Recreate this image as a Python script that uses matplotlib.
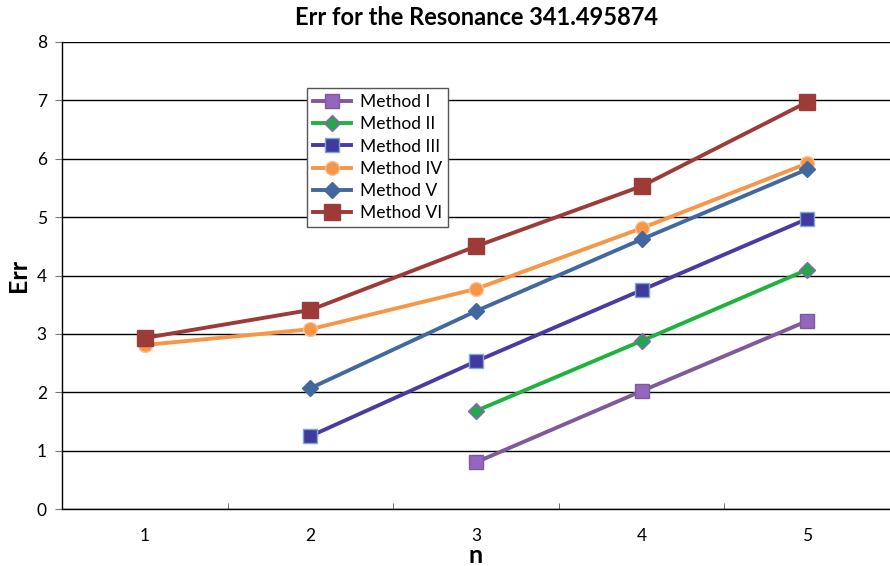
import matplotlib
matplotlib.use("Agg")
import matplotlib.pyplot as plt
import numpy as np

plt.rcParams['font.family'] = ['Lato', 'DejaVu Sans']

# categories on the x axis
n_values = [1, 2, 3, 4, 5]

# Err per method (None = no point at that n)
method_1 = [None, None, 0.80, 2.02, 3.22]
method_2 = [None, None, 1.68, 2.88, 4.10]
method_3 = [None, 1.25, 2.53, 3.75, 4.97]
method_4 = [2.81, 3.08, 3.77, 4.81, 5.92]
method_5 = [None, 2.07, 3.39, 4.62, 5.82]
method_6 = [2.93, 3.41, 4.50, 5.53, 6.97]

labels = ["Method I", "Method II", "Method III", "Method IV", "Method V", "Method VI"]
series = [method_1, method_2, method_3, method_4, method_5, method_6]

styles = [
    dict(color="#7E5A9B", marker="s", ms=10, mfc="#9467BD", mec="#7E5A9B"),
    dict(color="#1FB23F", marker="D", ms=8, mfc="#22A84A", mec="#8E63B8"),
    dict(color="#4B3BA0", marker="s", ms=10, mfc="#413A9E", mec="#7FA6D8"),
    dict(color="#F79646", marker="o", ms=10, mfc="#F79646", mec="#F9C49A"),
    dict(color="#41699F", marker="D", ms=8, mfc="#41699F", mec="#41699F"),
    dict(color="#9C3B38", marker="s", ms=11, mfc="#9C3B38", mec="#9C3B38"),
]

fig = plt.figure(figsize=(8.9, 5.66), dpi=100)
ax = fig.add_axes([0.0697, 0.1007, 0.9303, 0.8251])

x = np.array(n_values, dtype=float)
for vals, lab, st in zip(series, labels, styles):
    y = np.array([np.nan if v is None else v for v in vals])
    mask = ~np.isnan(y)
    ax.plot(x[mask], y[mask], linewidth=2.8, label=lab, zorder=3, mew=1, **st)

ax.set_xlim(0.5, 5.5)
ax.set_ylim(0, 8)
ax.set_xticks(n_values)
ax.set_xticks([1.5, 2.5, 3.5, 4.5], minor=True)
ax.set_yticks(range(0, 9))
ax.yaxis.grid(True, color="black", linewidth=1)
ax.set_axisbelow(True)

for s in ["top", "right"]:
    ax.spines[s].set_visible(False)
ax.spines["left"].set_linewidth(1)
ax.spines["bottom"].set_linewidth(1)

ax.tick_params(axis="x", which="major", length=0, labelsize=12.5, pad=14)
ax.tick_params(axis="x", which="minor", direction="in", length=4, color="#555555")
ax.tick_params(axis="y", length=5, color="#777777", labelsize=12.5, pad=6)

ax.set_title("Err for the Resonance 341.495874", fontsize=17, fontweight="bold", pad=12)
ax.set_xlabel("n", fontsize=18, fontweight="bold", labelpad=0)
ax.set_ylabel("Err", fontsize=18, fontweight="bold", labelpad=5)

leg = ax.legend(loc="upper left", bbox_to_anchor=(0.2955, 0.9015), borderaxespad=0,
                fontsize=12.5, frameon=True, fancybox=False, edgecolor="#555555",
                framealpha=1, handlelength=2.2, handletextpad=0.5, labelspacing=0.36,
                borderpad=0.35)
leg.get_frame().set_linewidth(1)

fig.savefig("out.png", dpi=100)
